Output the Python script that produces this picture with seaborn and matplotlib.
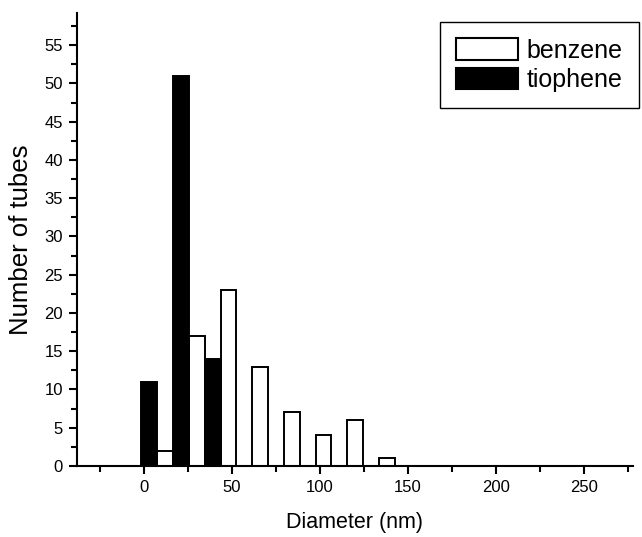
import matplotlib
matplotlib.use("Agg")
import matplotlib.pyplot as plt
from matplotlib.patches import Patch
from matplotlib.ticker import MultipleLocator
import pandas as pd
import seaborn as sns

# Histogram bin centres (nm) and tube counts per solvent
bin_centers = [7.5, 25.5, 43.5, 61.5, 79.5, 97.5, 115.5, 133.5]
benzene_counts = [2, 17, 23, 13, 7, 4, 6, 1]
tiophene_counts = [11, 51, 14, 0, 0, 0, 0, 0]
solvents = ["tiophene", "benzene"]
legend_labels = ["benzene", "tiophene"]
bin_width = 18

df = pd.DataFrame({
    "diameter": bin_centers * 2,
    "count": tiophene_counts + benzene_counts,
    "solvent": ["tiophene"] * len(bin_centers) + ["benzene"] * len(bin_centers),
})

sns.set_style("ticks")
plt.rcParams["font.family"] = ["Liberation Sans", "DejaVu Sans"]
plt.rcParams["text.color"] = "black"
plt.rcParams["axes.labelcolor"] = "black"
plt.rcParams["xtick.color"] = "black"
plt.rcParams["ytick.color"] = "black"

fig = plt.figure(figsize=(6.42, 5.37), dpi=100)
ax = fig.add_axes([77 / 642, 71 / 537, 556 / 642, 453 / 537])

sns.histplot(
    data=df, x="diameter", weights="count", hue="solvent", hue_order=solvents,
    multiple="dodge", binwidth=bin_width,
    binrange=(bin_centers[0] - bin_width / 2, bin_centers[-1] + bin_width / 2),
    palette={"tiophene": "black", "benzene": "white"},
    edgecolor="black", linewidth=1.4, alpha=1, shrink=1, legend=False, ax=ax,
)

ax.set_xlim(-38, 277.7)
ax.set_ylim(0, 59.2)
ax.xaxis.set_major_locator(MultipleLocator(50))
ax.xaxis.set_minor_locator(MultipleLocator(25))
ax.yaxis.set_major_locator(MultipleLocator(5))
ax.yaxis.set_minor_locator(MultipleLocator(2.5))
ax.tick_params(which="major", length=6, width=1.5, labelsize=12,
               color="black", labelcolor="black", pad=4)
ax.tick_params(which="minor", length=4, width=1.5, color="black")
for side in ("left", "bottom"):
    ax.spines[side].set_linewidth(1.5)
    ax.spines[side].set_color("black")
sns.despine(ax=ax)

ax.set_xlabel("Diameter (nm)", fontsize=15.5, labelpad=12, color="black")
ax.set_ylabel("Number of tubes", fontsize=18.5, labelpad=8, color="black")

handles = [
    Patch(facecolor="white", edgecolor="black", linewidth=1.5),
    Patch(facecolor="black", edgecolor="black", linewidth=1.5),
]
leg = fig.legend(
    handles, legend_labels, loc="upper left",
    bbox_to_anchor=(440 / 642, 1 - 22 / 537), fontsize=18,
    frameon=True, fancybox=False, edgecolor="black", framealpha=1,
    handlelength=2.45, handleheight=0.95, handletextpad=0.35,
    labelspacing=0.2, borderpad=0.65, borderaxespad=0,
)
leg.get_frame().set_linewidth(1.0)
for txt in leg.get_texts():
    txt.set_color("black")

fig.savefig("out.png", dpi=100)
